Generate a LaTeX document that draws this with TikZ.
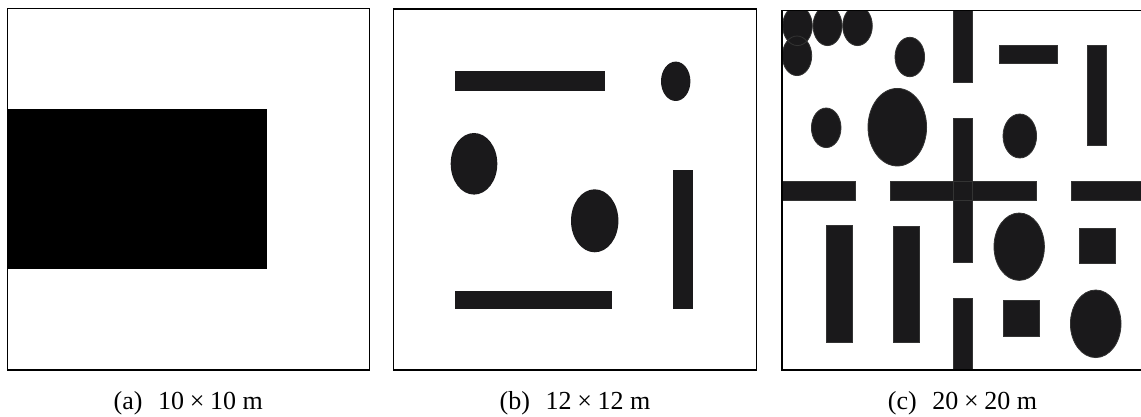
\documentclass[tikz,border=0pt]{standalone}
\usepackage{fontspec}
\setmainfont{Liberation Serif}
\definecolor{obsfill}{RGB}{26,25,27}
\begin{document}
\begin{tikzpicture}[x=0.5pt,y=-0.5pt,
  frame/.style={draw=black,line width=0.6pt},
  obs/.style={fill=obsfill},
  outl/.style={draw=black!80,line width=0.4pt},
  captext/.style={anchor=base,font=\fontsize{13}{15}\selectfont,inner sep=0pt}]
\useasboundingbox (0,0) rectangle (1141,417);

% ---------- panel (a)
\fill[black] (7.3,109.3) rectangle (267.3,268.7);
\draw[frame] (7.3,8.3) rectangle (369.3,370);

% ---------- panel (b)
\begin{scope}[obs]
\fill (455,71) rectangle (605,90.7);
\fill (455,291) rectangle (611.7,309.3);
\fill (672.7,170.3) rectangle (692.7,309.3);
\fill (675.7,81.3) ellipse [x radius=14.7, y radius=19.7];
\fill (474,163.8) ellipse [x radius=23.3, y radius=30.8];
\fill (594.7,220.8) ellipse [x radius=23.7, y radius=31.5];
\end{scope}
\draw[frame] (393.3,9) rectangle (756.7,370);

% ---------- panel (c)
\def\crects{953.3/972/8/82.7, 953.3/972/118.3/262.7, 953.3/972/298.3/372,
  999.3/1057/45/63.7, 1087.7/1106.7/45.7/145.7,
  780/855/181/200, 890.7/1036/181/200, 1071/1145/181/200,
  826/852.3/225/342, 893.3/919.3/226/342,
  1079.3/1115/228.3/263.7, 1003.3/1039.3/300.7/336.3}
\def\cells{797.5/25.8/14.8/19.8, 827.5/25.8/14.5/19.8, 857.5/25.8/14.8/19.8,
  797/55.8/14.7/19.8, 909.8/57/14.8/19.7, 826.2/127.8/14.8/19.8,
  897.3/127.2/29.3/38.8, 1019.8/136/16.8/22, 1019.2/246.7/25.2/33.7,
  1095.7/323.8/25.3/33.8}
\begin{scope}
\clip (782,10.7) rectangle (1141,370);
\foreach \a/\b/\c/\d in \crects {\fill[obs] (\a,\c) rectangle (\b,\d);}
\foreach \a/\b/\c/\d in \cells {\fill[obs] (\a,\b) ellipse [x radius=\c, y radius=\d];}
\foreach \a/\b/\c/\d in \crects {\draw[outl] (\a,\c) rectangle (\b,\d);}
\foreach \a/\b/\c/\d in \cells {\draw[outl] (\a,\b) ellipse [x radius=\c, y radius=\d];}
\end{scope}
\draw[frame] (782,10.7) rectangle (1143,370);

% ---------- captions
\node[captext] (capa) at (188.3,409) {(a)\hspace{0.6em}10\hspace{0.22em}×\hspace{0.22em}10 m};
\node[captext] (capb) at (575,409) {(b)\hspace{0.6em}12\hspace{0.22em}×\hspace{0.22em}12 m};
\node[captext] (capc) at (962.5,409) {(c)\hspace{0.6em}20\hspace{0.22em}×\hspace{0.22em}20 m};
\end{tikzpicture}
\end{document}
